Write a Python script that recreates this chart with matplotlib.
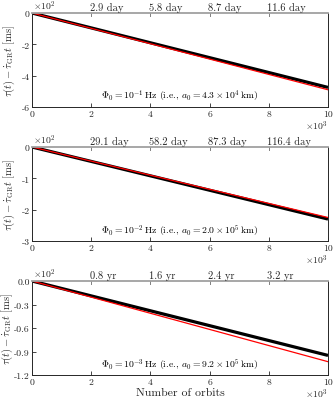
import matplotlib
matplotlib.use("Agg")
import matplotlib.pyplot as plt
from matplotlib.ticker import FuncFormatter

plt.rcParams['font.family'] = ['cmr10', 'DejaVu Serif']
plt.rcParams['mathtext.fontset'] = 'cm'
plt.rcParams['axes.unicode_minus'] = False
plt.rcParams['axes.formatter.use_mathtext'] = True

orbits = [0, 2, 4, 6, 8, 10]  # x10^3

black1 = [0, -0.95, -1.90, -2.85, -3.80, -4.75]
red1 = [0, -0.98, -1.96, -2.94, -3.92, -4.90]
black2 = [0, -0.46, -0.92, -1.38, -1.84, -2.30]
red2 = [0, -0.45, -0.90, -1.35, -1.80, -2.25]
black3 = [0, -0.19, -0.38, -0.57, -0.76, -0.95]
red3 = [0, -0.206, -0.412, -0.618, -0.824, -1.03]

top_ticks = [2, 4, 6, 8]
top_labels1 = ["2.9 day", "5.8 day", "8.7 day", "11.6 day"]
top_labels2 = ["29.1 day", "58.2 day", "87.3 day", "116.4 day"]
top_labels3 = ["0.8 yr", "1.6 yr", "2.4 yr", "3.2 yr"]

annots = [r"$\Phi_0=10^{-1}\,\mathrm{Hz}$ (i.e., $a_0=4.3\times10^4\,\mathrm{km}$)",
          r"$\Phi_0=10^{-2}\,\mathrm{Hz}$ (i.e., $a_0=2.0\times10^5\,\mathrm{km}$)",
          r"$\Phi_0=10^{-3}\,\mathrm{Hz}$ (i.e., $a_0=9.2\times10^5\,\mathrm{km}$)"]

yticks = [[0, -2, -4, -6], [0, -1, -2, -3], [0.0, -0.3, -0.6, -0.9, -1.2]]
yfmt = ["{:.0f}", "{:.0f}", "{:.1f}"]
ylab_x = [-0.05, -0.05, -0.056]

fig = plt.figure(figsize=(3.35, 4.02), dpi=100)
tops = [14, 148, 282]
L = 32 / 335
W = (328 - 32) / 335
H = 94 / 402
grey = '#262626'
data = [(black1, red1, top_labels1), (black2, red2, top_labels2), (black3, red3, top_labels3)]
for i, (bk, rd, tl) in enumerate(data):
    ax = fig.add_axes([L, 1 - (tops[i] + 94) / 402, W, H])
    ax.plot(orbits, bk, color='black', lw=2.3, solid_capstyle='butt')
    ax.plot(orbits, rd, color='red', lw=0.9)
    ax.set_xlim(0, 10)
    ax.set_ylim(yticks[i][-1], yticks[i][0])
    ax.set_yticks(yticks[i])
    f = yfmt[i]
    ax.yaxis.set_major_formatter(FuncFormatter(lambda v, p, f=f: f.format(v).replace('-0.0', '0.0')))
    ax.set_xticks([0, 2, 4, 6, 8, 10])
    ax.xaxis.set_major_formatter(FuncFormatter(lambda v, p: "{:.0f}".format(v)))
    ax.tick_params(direction='in', length=3, width=0.6, labelsize=7, colors=grey, pad=2,
                   top=False, right=False)
    ax.tick_params(axis='y', pad=1.5)
    for s in ['left', 'bottom', 'right']:
        ax.spines[s].set_color(grey)
        ax.spines[s].set_linewidth(0.7)
    ax.spines['top'].set_color('#a0a0a0')
    ax.spines['top'].set_linewidth(1.3)
    # top axis
    for t, lab in zip(top_ticks, tl):
        ax.plot([t, t], [1, 0.97], transform=ax.get_xaxis_transform(), color='#808080', lw=0.7,
                clip_on=False)
        ax.text(t - 0.05, 1.015, lab, transform=ax.get_xaxis_transform(), ha='left', va='bottom',
                fontsize=7.5, color=grey)
    ax.text(0.005, 1.01, r"$\times10^2$", transform=ax.transAxes, ha='left', va='bottom',
            fontsize=7, color=grey)
    ax.text(1.0, -0.12, r"$\times10^3$", transform=ax.transAxes, ha='right', va='top',
            fontsize=7, color=grey)
    ax.text(0.5, 0.12, annots[i], transform=ax.transAxes, ha='center', va='center',
            fontsize=7, color='black')
    ax.set_ylabel(r"$\tau(t)-\dot{\tau}_{\mathrm{GR}}t\ [\mathrm{ms}]$", fontsize=7.6,
                  color=grey)
    ax.yaxis.set_label_coords(ylab_x[i], 0.5)
    if i == 2:
        ax.set_xlabel("Number of orbits", fontsize=8.5, color=grey)
        ax.xaxis.set_label_coords(0.5, -0.13)

fig.savefig("out.png", dpi=100)
